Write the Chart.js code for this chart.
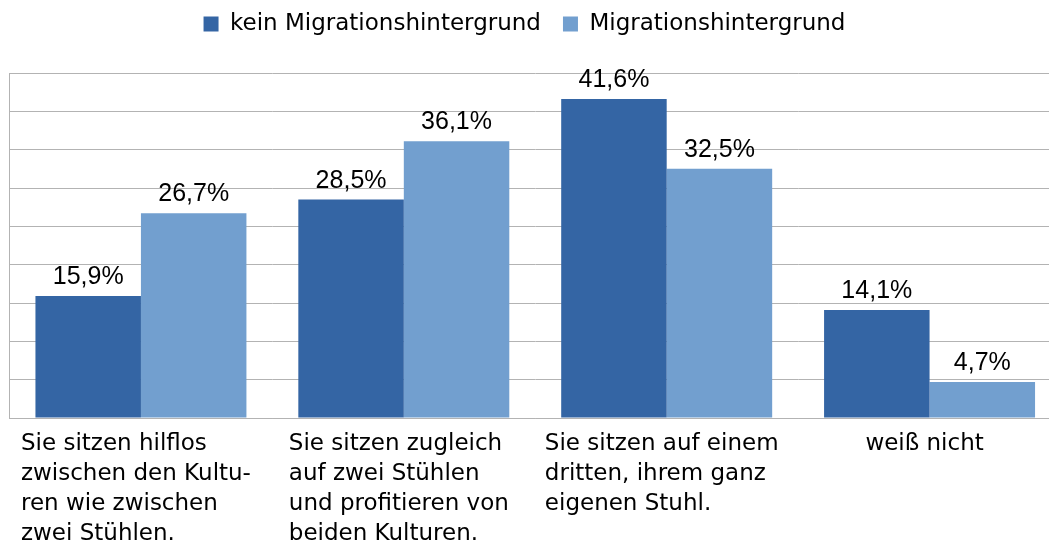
<!DOCTYPE html>
<html>
<head>
<meta charset="utf-8">
<script src="https://cdn.jsdelivr.net/npm/chart.js@4"></script>
<style>
    html, body { margin: 0; padding: 0; background: #fff; overflow: hidden; }
    #wrap { position: relative; width: 1049px; height: 541px; overflow: hidden; }
    #myChart { position: absolute; left: -12px; top: 0; }
</style>
</head>
<body>
<div id="wrap"><canvas id="myChart" width="1073" height="541"></canvas></div>
<script>
const categories = [
    ["Sie sitzen hilflos", "zwischen den Kultu-", "ren wie zwischen", "zwei Stühlen."],
    ["Sie sitzen zugleich", "auf zwei Stühlen", "und profitieren von", "beiden Kulturen."],
    ["Sie sitzen auf einem", "dritten, ihrem ganz", "eigenen Stuhl."],
    ["weiß nicht"]
];
const seriesNames = ["kein Migrationshintergrund", "Migrationshintergrund"];
const keinMigration = [15.9, 28.5, 41.6, 14.1];
const mitMigration = [26.7, 36.1, 32.5, 4.7];

const darkBlue = '#3465a4';
const lightBlue = '#729fcf';
const gridColor = '#b3b3b3';

// legend sits higher than chart.js would put it, so give it extra height below
const legendMargin = {
    id: 'legendMargin',
    beforeInit(chart) {
        const fit = chart.legend.fit;
        chart.legend.fit = function () {
            fit.bind(chart.legend)();
            this.height += 27.5;
        };
    }
};

const valueLabels = {
    id: 'valueLabels',
    afterDatasetsDraw(chart) {
        const ctx = chart.ctx;
        ctx.save();
        ctx.font = '25px "Liberation Sans", Arial, sans-serif';
        ctx.fillStyle = '#000';
        ctx.textAlign = 'center';
        ctx.textBaseline = 'alphabetic';
        chart.data.datasets.forEach((ds, i) => {
            chart.getDatasetMeta(i).data.forEach((bar, j) => {
                const text = ds.data[j].toFixed(1).replace('.', ',') + '%';
                ctx.fillText(text, bar.x, bar.y - 12);
            });
        });
        ctx.restore();
    }
};

// category labels: block centred under the group, lines left aligned
const categoryLabels = {
    id: 'categoryLabels',
    afterDraw(chart) {
        const ctx = chart.ctx;
        const x = chart.scales.x;
        ctx.save();
        ctx.font = '23px "DejaVu Sans", sans-serif';
        ctx.fillStyle = '#000';
        ctx.textAlign = 'left';
        ctx.textBaseline = 'alphabetic';
        categories.forEach((lines, i) => {
            const center = x.getPixelForValue(i);
            const w = Math.max(...lines.map(l => ctx.measureText(l).width));
            const left = center - w / 2 - 5;
            lines.forEach((line, k) => {
                ctx.fillText(line, left, x.top + 32 + k * 30);
            });
        });
        ctx.restore();
    }
};

const config = {
    type: 'bar',
    data: {
        labels: categories,
        datasets: [{
            label: seriesNames[0],
            data: keinMigration,
            backgroundColor: darkBlue,
            borderColor: darkBlue,
            borderWidth: 0
        }, {
            label: seriesNames[1],
            data: mitMigration,
            backgroundColor: lightBlue,
            borderColor: lightBlue,
            borderWidth: 0
        }]
    },
    options: {
        responsive: false,
        animation: false,
        layout: {
            padding: { top: -9.5, left: 0, right: 0, bottom: 0 }
        },
        datasets: {
            bar: {
                barPercentage: 1.0,
                categoryPercentage: 0.8026
            }
        },
        plugins: {
            tooltip: { enabled: false },
            legend: {
                display: true,
                position: 'top',
                labels: {
                    boxWidth: 15,
                    boxHeight: 15,
                    padding: 22,
                    color: '#000',
                    font: { family: '"DejaVu Sans", sans-serif', size: 23 }
                }
            }
        },
        scales: {
            x: {
                grid: { display: false },
                border: { display: true, color: gridColor, width: 1 },
                ticks: { display: false },
                afterFit(scale) {
                    scale.height = 123;
                }
            },
            y: {
                min: 0,
                max: 45,
                ticks: { display: false, stepSize: 5 },
                grid: { color: gridColor, drawTicks: false, lineWidth: 1 },
                border: { display: true, color: gridColor, width: 1 },
                afterFit(scale) {
                    scale.width = 21.5;
                }
            }
        }
    },
    plugins: [legendMargin, valueLabels, categoryLabels]
};

const myChart = new Chart(document.getElementById('myChart'), config);
</script>
</body>
</html>
